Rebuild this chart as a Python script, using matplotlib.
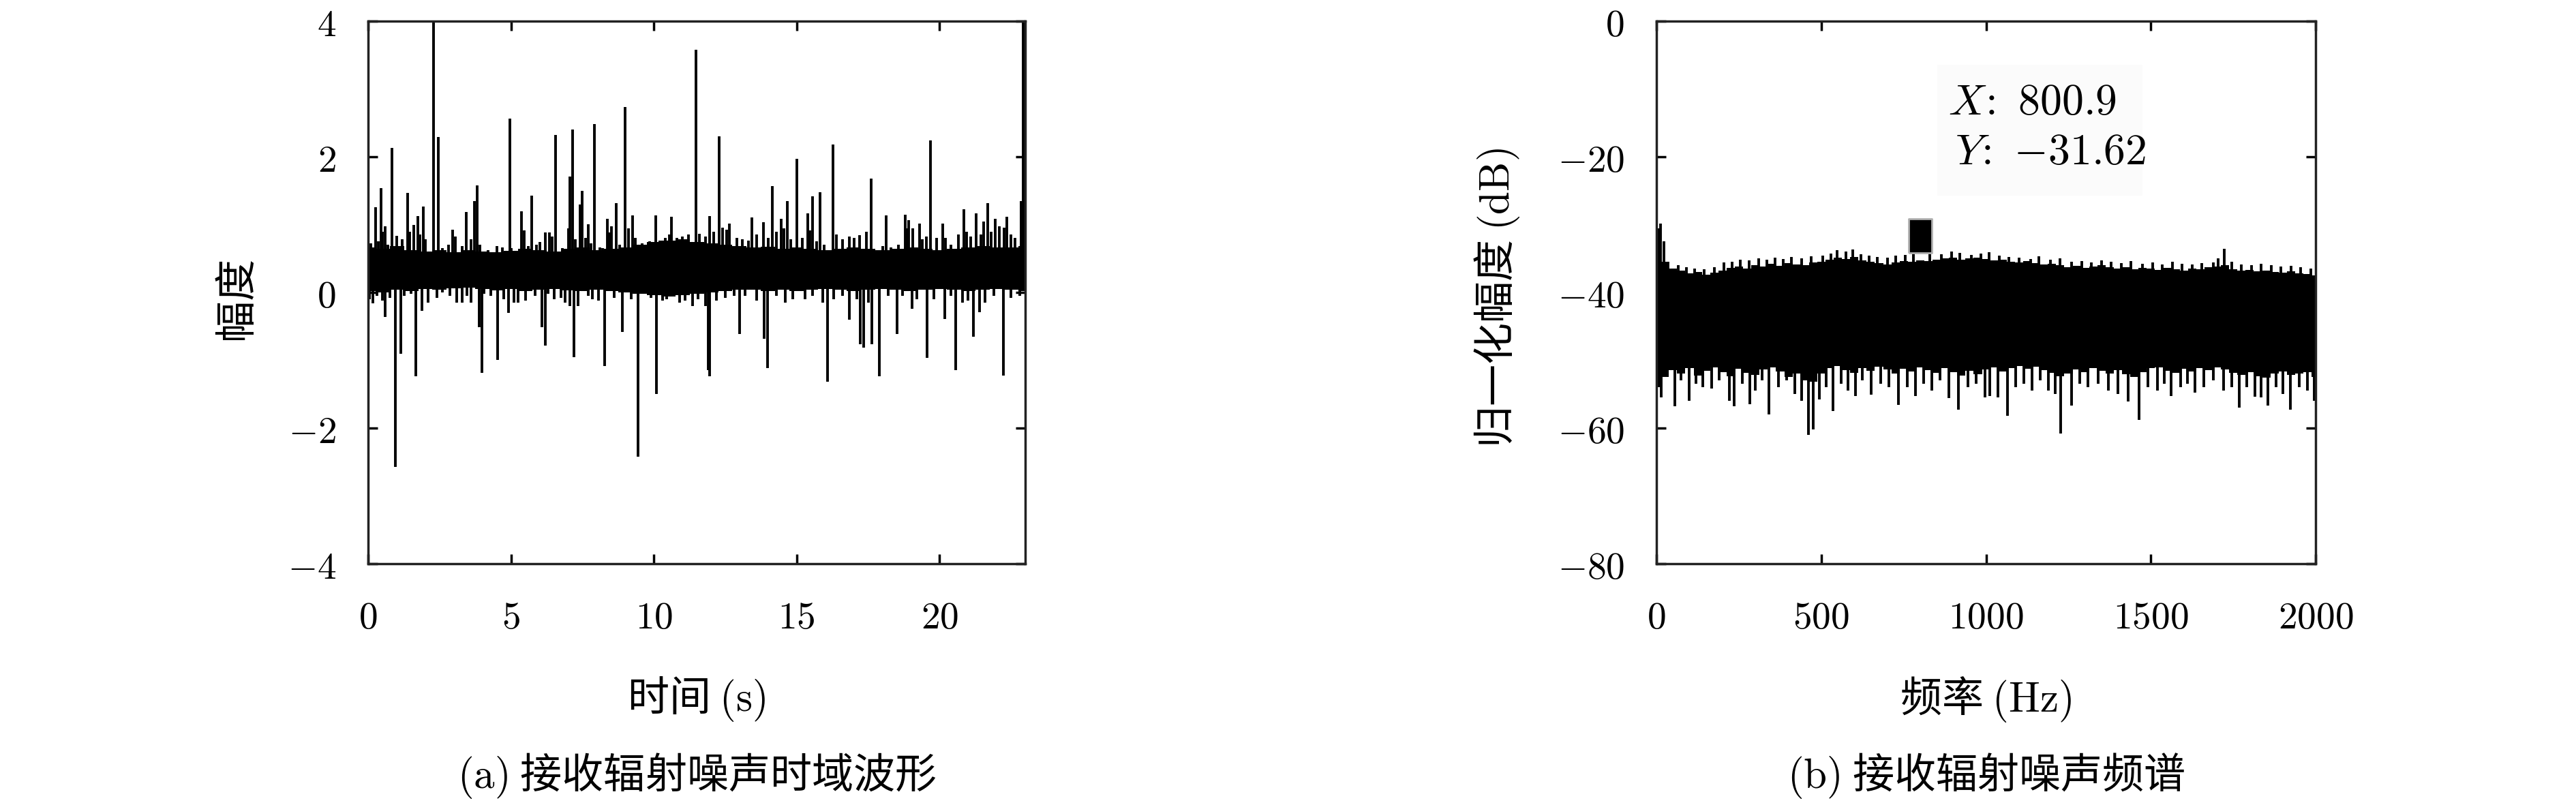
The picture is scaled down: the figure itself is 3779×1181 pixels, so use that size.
import numpy as np
import matplotlib
matplotlib.use('Agg')
import matplotlib.pyplot as plt
from matplotlib.patches import Rectangle

plt.rcParams['font.family'] = ['Noto Sans CJK SC', 'DejaVu Sans']
plt.rcParams['mathtext.fontset'] = 'cm'

# ---------------- (a) time-domain waveform ----------------
t_env = np.arange(0, 23.01, 0.5)
hi_env = [0.66, 0.64, 0.68, 0.62, 0.60, 0.62, 0.59, 0.62, 0.60, 0.59, 0.61, 0.64,
          0.62, 0.60, 0.64, 0.66, 0.62, 0.64, 0.66, 0.70, 0.74, 0.76, 0.78, 0.74,
          0.72, 0.70, 0.68, 0.66, 0.67, 0.64, 0.66, 0.64, 0.62, 0.64, 0.66, 0.64,
          0.62, 0.64, 0.66, 0.64, 0.62, 0.64, 0.66, 0.68, 0.66, 0.66, 0.68]
lo_env = [0.02, 0.00, 0.04, 0.02, 0.05, 0.04, 0.06, 0.07, 0.05, 0.03, 0.05, 0.02,
          0.04, 0.05, 0.03, 0.02, 0.04, 0.02, 0.00, -0.02, -0.04, -0.06, -0.04, -0.02,
          0.00, 0.02, 0.04, 0.04, 0.02, 0.04, 0.02, 0.04, 0.05, 0.04, 0.02, 0.04,
          0.05, 0.04, 0.02, 0.04, 0.05, 0.04, 0.02, 0.04, 0.05, 0.04, 0.02]

up_t = [0.26, 0.44, 0.59, 0.83, 1.37, 1.59, 1.73, 1.93, 2.29, 2.45, 2.95, 3.43,
        3.73, 3.81, 4.96, 5.36, 5.72, 6.2, 6.56, 7.07, 7.15, 7.42, 7.5, 7.71,
        7.93, 8.37, 8.52, 8.69, 9.0, 9.25, 10.07, 10.62, 11.47, 11.95, 12.28,
        12.65, 13.44, 13.83, 14.14, 14.45, 14.66, 15.0, 15.39, 15.55, 15.81,
        16.27, 17.6, 18.13, 18.79, 18.92, 19.29, 19.69, 20.1, 20.85, 21.29,
        21.69, 21.95, 22.36, 22.86, 22.92, 22.98]
up_v = [1.26, 1.54, 0.98, 2.13, 1.47, 1.0, 1.13, 1.27, 4.5, 2.29, 0.93, 1.19,
        1.35, 1.58, 2.56, 1.2, 1.43, 0.89, 2.32, 1.71, 2.4, 1.3, 1.5, 1.01,
        2.48, 1.09, 0.98, 1.32, 2.73, 1.14, 1.14, 1.12, 3.58, 1.13, 2.3,
        1.02, 1.11, 1.04, 1.57, 1.09, 1.35, 1.97, 1.17, 1.42, 1.48,
        2.18, 1.68, 1.14, 1.15, 1.07, 1.02, 2.24, 1.02, 1.23, 1.17,
        1.32, 1.09, 1.12, 1.35, 4.5, 4.5]
dn_t = [0.16, 0.59, 0.95, 1.13, 1.67, 1.89, 3.11, 3.88, 3.97, 4.52, 4.9, 6.08,
        6.19, 7.21, 8.27, 8.89, 9.45, 10.08, 11.8, 11.9, 11.96, 13.0, 13.87,
        13.97, 16.09, 16.85, 17.22, 17.34, 17.64, 17.9, 18.51, 19.03, 19.56,
        20.19, 20.56, 21.19, 21.4, 22.23]
dn_v = [-0.16, -0.36, -2.57, -0.9, -1.24, -0.27, -0.15, -0.51, -1.19, -0.99, -0.3,
        -0.51, -0.78, -0.95, -1.08, -0.58, -2.42, -1.5, -0.2, -1.15, -1.24, -0.61,
        -0.68, -1.11, -1.32, -0.4, -0.76, -0.81, -0.76, -1.24, -0.61, -0.24, -0.96,
        -0.39, -1.15, -0.65, -0.29, -1.23]

fr_up_t = [0.1, 0.35, 0.5, 0.7, 1.0, 1.2, 1.45, 1.8, 2.0, 2.6, 2.8, 3.05, 3.3, 3.6,
           3.9, 4.2, 4.5, 4.7, 5.0, 5.45, 5.6, 5.9, 6.0, 6.35, 6.45, 6.8, 7.0, 7.25,
           7.6, 7.8, 8.1, 8.2, 8.45, 8.8, 9.1, 9.35, 9.6, 9.85, 10.2, 10.4, 10.55,
           10.8, 11.0, 11.2, 11.6, 11.8, 12.1, 12.4, 12.55, 12.9, 13.1, 13.3, 13.6,
           14.0, 14.3, 14.55, 14.8, 15.2, 15.45, 15.7, 15.95, 16.4, 16.6, 16.85,
           17.0, 17.2, 17.45, 17.8, 18.0, 18.3, 18.55, 18.85, 19.05, 19.4, 19.55,
           19.9, 20.2, 20.4, 20.65, 20.95, 21.1, 21.45, 21.55, 21.8, 22.1, 22.25,
           22.5, 22.65]
fr_up_v = [0.72, 0.75, 0.9, 0.7, 0.83, 0.78, 0.9, 0.85, 0.78, 0.65, 0.7, 0.82, 0.68,
           0.78, 0.7, 0.62, 0.68, 0.66, 0.65, 0.92, 0.68, 0.7, 0.74, 0.88, 0.82, 0.65,
           0.95, 0.78, 0.8, 0.72, 0.66, 0.65, 0.88, 0.7, 0.95, 0.8, 0.72, 0.75, 0.76,
           0.8, 0.85, 0.8, 0.82, 0.85, 0.86, 0.82, 0.9, 0.96, 0.93, 0.8, 0.78, 0.76,
           0.85, 0.8, 0.9, 0.95, 0.78, 0.8, 0.92, 0.75, 0.7, 0.85, 0.78, 0.82, 0.8,
           0.84, 0.9, 0.62, 0.68, 0.66, 0.7, 0.95, 0.95, 0.78, 0.82, 0.8, 0.8, 0.7,
           0.85, 0.9, 0.82, 0.85, 1.05, 0.9, 0.98, 0.96, 0.85, 0.8]
fr_dn_t = [0.05, 0.3, 0.5, 0.75, 1.25, 1.5, 2.1, 2.4, 2.6, 2.85, 3.3, 3.45, 3.6,
           4.05, 4.3, 4.75, 5.1, 5.25, 5.5, 5.85, 6.3, 6.5, 6.75, 6.9, 7.05, 7.35,
           7.7, 7.85, 8.05, 8.6, 9.2, 9.7, 9.9, 10.3, 10.45, 10.9, 11.1, 11.35, 11.55,
           12.2, 12.5, 12.8, 13.2, 13.6, 14.3, 14.6, 14.85, 15.3, 15.55, 15.9, 16.3,
           16.6, 17.1, 17.5, 18.2, 18.7, 19.2, 19.8, 20.4, 20.8, 21.0, 21.6, 21.9,
           22.5, 22.8]
fr_dn_v = [-0.1, -0.05, -0.12, -0.08, -0.05, -0.02, -0.15, -0.08, 0.0, -0.05, -0.15,
           -0.05, -0.15, -0.02, -0.05, -0.1, -0.15, -0.15, -0.12, -0.05, -0.02, -0.1,
           -0.08, -0.15, -0.2, -0.2, -0.05, -0.1, -0.12, -0.08, -0.1, -0.02, -0.08,
           -0.12, -0.1, -0.15, -0.12, -0.2, -0.1, -0.12, -0.08, -0.05, -0.05, -0.12,
           -0.05, -0.15, -0.1, -0.1, -0.05, -0.15, -0.1, -0.05, -0.1, -0.15, -0.05,
           -0.05, -0.1, -0.1, -0.05, -0.15, -0.12, -0.15, -0.05, -0.08, -0.05]

t_ticks = [0, 5, 10, 15, 20]
a_ticks = [-4, -2, 0, 2, 4]

# ---------------- (b) spectrum ----------------
f_env = np.arange(0, 2001, 25)
s_hi = [-31.0, -35.5, -36.5, -36.8, -37.2, -37.0, -37.4, -37.1, -36.8, -36.4, -36.2,
        -36.5, -36.0, -36.2, -35.8, -36.1, -35.7, -35.9, -36.0, -35.6, -35.5, -35.2,
        -34.9, -35.1, -34.8, -35.3, -35.5, -35.7, -35.9, -35.6, -35.4, -35.5, -35.3,
        -35.4, -35.2, -35.0, -34.9, -35.2, -35.0, -34.9, -35.1, -35.3, -35.2, -35.5,
        -35.6, -35.4, -35.7, -35.9, -35.8, -36.0, -36.3, -36.1, -36.4, -36.2, -36.0,
        -36.3, -36.5, -36.3, -36.6, -36.4, -36.5, -36.7, -36.4, -36.6, -36.8, -36.5,
        -36.6, -36.3, -36.2, -36.0, -36.6, -36.8, -36.7, -36.9, -36.8, -37.0, -37.1,
        -36.9, -37.2, -37.3, -37.5]
s_lo = [-54.0, -52.5, -51.5, -52.0, -51.2, -52.3, -51.6, -51.0, -51.8, -52.4, -51.3,
        -51.9, -52.2, -51.4, -51.0, -51.7, -52.5, -52.0, -53.0, -53.2, -52.0, -51.2,
        -50.8, -51.5, -51.9, -51.1, -51.6, -50.9, -51.4, -52.0, -51.3, -51.7, -51.0,
        -51.5, -51.9, -51.2, -51.8, -52.3, -51.6, -52.1, -51.4, -51.0, -51.7, -51.2,
        -50.8, -51.3, -50.9, -51.5, -51.9, -52.4, -52.0, -51.4, -51.8, -51.2, -51.6,
        -52.0, -51.5, -52.1, -52.5, -51.8, -51.2, -51.0, -51.6, -51.9, -51.3, -51.7,
        -51.2, -51.5, -51.0, -51.4, -51.9, -52.2, -51.8, -52.4, -52.6, -52.0, -51.7,
        -52.2, -52.0, -51.8, -52.5]

sp_up_f = [0, 6, 12, 22, 35, 65, 90, 115, 145, 175, 205, 230, 255, 280, 310, 335,
           360, 385, 410, 440, 470, 505, 530, 548, 575, 595, 620, 645, 670, 700, 725,
           755, 780, 830, 865, 895, 920, 955, 985, 1010, 1040, 1070, 1100, 1135, 1160,
           1195, 1225, 1260, 1290, 1320, 1350, 1380, 1410, 1440, 1475, 1505, 1535,
           1565, 1595, 1625, 1655, 1690, 1705, 1723, 1745, 1775, 1805, 1835, 1865,
           1895, 1925, 1955, 1985]
sp_up_v = [-28.5, -30.5, -29.8, -32.5, -35.5, -36.0, -36.3, -36.5, -36.6, -36.3,
           -35.6, -35.5, -35.2, -35.3, -35.0, -35.2, -34.9, -35.1, -34.8, -35.0, -34.7,
           -34.6, -34.3, -33.8, -34.0, -33.7, -34.4, -34.6, -34.8, -34.9, -34.6, -34.5,
           -34.2, -34.3, -34.4, -34.0, -34.2, -34.5, -34.3, -34.1, -34.6, -34.8, -34.9,
           -35.1, -34.7, -35.2, -35.0, -35.5, -35.4, -35.6, -35.3, -35.5, -35.7, -35.4,
           -35.8, -35.6, -35.9, -35.5, -35.8, -35.9, -35.7, -35.6, -35.0, -33.6, -35.5,
           -35.9, -36.0, -35.8, -36.0, -36.2, -36.1, -36.3, -36.5]
sp_dn_f = [15, 30, 55, 75, 98, 120, 140, 167, 190, 221, 236, 260, 283, 300, 320, 341,
           370, 395, 420, 440, 460, 476, 493, 515, 536, 560, 580, 603, 625, 651, 680,
           705, 734, 760, 786, 810, 835, 860, 888, 917, 945, 970, 996, 1012, 1035,
           1065, 1090, 1115, 1140, 1165, 1190, 1210, 1227, 1260, 1285, 1310, 1340,
           1370, 1400, 1431, 1465, 1490, 1520, 1540, 1561, 1590, 1610, 1633, 1660,
           1690, 1720, 1745, 1769, 1790, 1816, 1835, 1854, 1880, 1900, 1924, 1950,
           1975, 1995]
sp_dn_v = [-55.5, -52.0, -56.8, -53.0, -56.0, -53.5, -54.0, -54.2, -53.0, -56.0,
           -56.8, -53.5, -56.5, -54.5, -53.0, -58.0, -54.0, -53.0, -55.0, -56.0, -61.0,
           -60.2, -55.8, -54.0, -57.5, -53.5, -54.5, -55.3, -53.0, -55.1, -53.5, -54.0,
           -56.6, -54.0, -55.3, -53.5, -54.5, -53.0, -55.6, -57.3, -54.0, -53.5, -55.5,
           -55.3, -55.5, -58.2, -54.0, -53.5, -54.5, -53.0, -54.5, -55.0, -60.8, -56.7,
           -53.5, -54.0, -53.5, -54.5, -55.0, -56.1, -58.8, -54.0, -54.5, -53.5, -55.3,
           -54.0, -53.5, -54.8, -54.0, -53.0, -54.5, -54.0, -57.0, -54.0, -55.4, -55.5,
           -56.7, -54.0, -55.0, -57.3, -54.0, -54.5, -56.0]

f_ticks = [0, 500, 1000, 1500, 2000]
db_ticks = [-80, -60, -40, -20, 0]
tip_x, tip_y = 800.9, -31.62

# ---------------- figure ----------------
fig = plt.figure(figsize=(37.8, 11.81), dpi=100)
ax1 = fig.add_axes([0.1429, 0.2997, 0.2550, 0.674])
ax2 = fig.add_axes([0.6429, 0.2997, 0.2558, 0.674])

lw = 2.8
ax1.fill_between(t_env, lo_env, hi_env, color='k', lw=0, step='mid')
ax1.vlines(fr_up_t, 0.35, fr_up_v, color='k', lw=lw)
ax1.vlines(fr_dn_t, 0.35, fr_dn_v, color='k', lw=lw)
ax1.vlines(up_t, 0.35, up_v, color='k', lw=lw)
ax1.vlines(dn_t, 0.35, dn_v, color='k', lw=lw)
ax1.set_xlim(0, 23)
ax1.set_ylim(-4, 4)

ax2.fill_between(f_env, s_lo, s_hi, color='k', lw=0, step='mid')
ax2.vlines(sp_up_f, -42, sp_up_v, color='k', lw=lw)
ax2.vlines(sp_dn_f, -46, sp_dn_v, color='k', lw=lw)
ax2.set_xlim(0, 2000)
ax2.set_ylim(-80, 0)

# data tip
ax2.add_patch(Rectangle((852, -25.7), 623, 19.3, facecolor='#fbfbfb', edgecolor='none', zorder=3))
ax2.plot([tip_x], [tip_y], ls='none', marker=[(-0.69, -1), (0.69, -1), (0.69, 1), (-0.69, 1), (-0.69, -1)],
         ms=36, mfc='k', mec='#b0b0b0', mew=2, zorder=4)
ax2.text(885, -13.8, r'$X\!{:}\ 800.9$', fontsize=46, va='baseline', ha='left', zorder=5)
ax2.text(906, -21.1, r'$Y\!{:}\ {-31.62}$', fontsize=46, va='baseline', ha='left', zorder=5)

for ax, xt, yt in [(ax1, t_ticks, a_ticks), (ax2, f_ticks, db_ticks)]:
    ax.set_xticks(xt)
    ax.set_xticklabels([f'${v}$' for v in xt])
    ax.set_yticks(yt)
    ax.set_yticklabels([f'${v}$' for v in yt])
    ax.tick_params(direction='in', top=True, right=True, length=10, width=2.5,
                   labelsize=40)
    ax.tick_params(axis='x', pad=36)
    ax.tick_params(axis='y', pad=34)
    for s in ax.spines.values():
        s.set_linewidth(2.5)
        s.set_color('#222222')

ax1.set_xlabel(r'时间 $(\mathrm{s})$', fontsize=44)
ax1.set_ylabel('幅度', fontsize=44)
ax1.xaxis.set_label_coords(0.5, -0.205)
ax1.yaxis.set_label_coords(-0.168, 0.49)
ax1.text(0.5, -0.345, r'$(\mathrm{a})$ 接收辐射噪声时域波形', transform=ax1.transAxes,
         fontsize=44, ha='center', va='top')

ax2.set_xlabel(r'频率 $(\mathrm{Hz})$', fontsize=44)
ax2.set_ylabel(r'归一化幅度 $(\mathrm{dB})$', fontsize=44)
ax2.xaxis.set_label_coords(0.5, -0.205)
ax2.yaxis.set_label_coords(-0.205, 0.49)
ax2.text(0.5, -0.345, r'$(\mathrm{b})$ 接收辐射噪声频谱', transform=ax2.transAxes,
         fontsize=44, ha='center', va='top')

fig.savefig('out.png', dpi=100)
